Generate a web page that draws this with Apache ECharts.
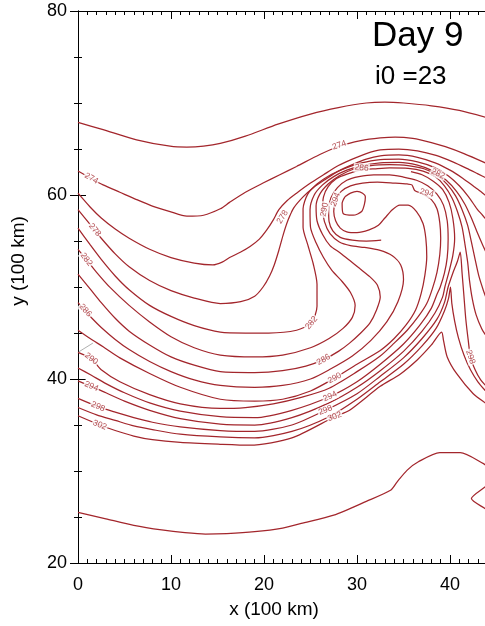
<!DOCTYPE html>
<html><head><meta charset="utf-8">
<script src="https://cdn.jsdelivr.net/npm/echarts@6/dist/echarts.min.js"></script>
<style>html,body{margin:0;padding:0;background:#fff}#c{width:485px;height:626px}</style>
</head><body><div id="c"></div>
<script>
// ---- axis tick values ----
const xTickValues = [0, 10, 20, 30, 40];
const yTickValues = [20, 40, 60, 80];

// ---- contour polylines, data units (x, y in 100 km) ----
const c272 = [[0,67.9],[2.7,67.1],[6.3,66.0],[9.9,65.3],[11.7,65.2],[13.5,65.3],[15.3,65.6],[18,66.4],[21.5,67.7],[25,68.8],[28,69.5],[31,70.0],[33,70.1],[35,70.0],[38,69.7],[41,69.2],[44,68.4]];
const c274 = [[0,62.6],[1.4,61.8],[2.7,61.1],[4.5,60.3],[6.3,59.5],[8,58.8],[9.9,58.2],[11.7,57.7],[13.5,57.8],[15.3,58.5],[16.3,59.2],[18,60.3],[19.9,61.3],[21.7,62.2],[23.5,63.1],[26,64.4],[28.1,65.3],[30.4,65.9],[32.5,66.2],[34.1,66.3],[36,66.15],[38,65.7],[39.5,65.25],[41.5,64.5],[44,63.4]];
const c278 = [[0,60.2],[1.3,58.7],[2.5,57.5],[4,56.3],[5.5,55.3],[7.7,54.1],[10,53.2],[12.5,52.6],[14.5,52.4],[15.5,52.7],[16.3,53.2],[17.5,53.8],[18.5,54.4],[19.5,55.2],[20.3,56.2],[21,57.3],[21.6,58.4],[22.5,59.4],[23.5,60.2],[25,61.3],[26.4,62.2],[28,63.2],[29.5,63.9],[31,64.5],[32.5,64.9],[34.5,65.0],[36.5,64.8],[38.5,64.3],[40.3,63.6],[41.8,62.9],[43,62.3],[44,61.8]];
const c280 = [[0,58.4],[1.3,56.8],[2.5,55.3],[4,53.6],[5.5,52.2],[7.7,50.7],[10,49.6],[12.5,48.8],[15.3,48.2],[17.5,48.4],[19,49.0],[19.9,50.0],[20.6,51.2],[21.1,52.4],[21.6,54.0],[22.1,55.8],[22.6,57.3],[23.2,58.6],[24.2,59.8],[25.3,60.8],[26.6,61.7],[28,62.6],[29.5,63.3],[31,63.9],[32.5,64.25],[34.5,64.35],[36.5,64.1],[38.4,63.5],[40.0,62.7],[41.4,61.8],[42.6,60.9],[43.4,60.3],[44,59.8]];
const c282 = [[0,56.4],[1.3,54.6],[2.5,53.0],[4,51.2],[5.5,49.7],[7.7,48.0],[10,46.8],[12.5,45.8],[15.3,45.1],[18,45.0],[20.5,45.0],[23.5,45.3],[25.1,46.1],[25.7,47.9],[25.7,50.3],[25.3,52.5],[24.7,54.6],[24.2,56.5],[24.2,58.5],[24.7,60.1],[25.7,61.2],[27,62.1],[28.5,62.8],[30,63.35],[31.5,63.7],[32.5,63.85],[34.5,63.9],[36.5,63.6],[38.3,63.0],[39.8,62.1],[41.0,61.0],[42.0,59.8],[42.9,58.5],[43.5,57.8],[44,57.2]];
const c284 = [[0,54.1],[0.9,53.0],[2,51.6],[3.5,49.9],[5.5,48.0],[7.7,46.2],[10,44.6],[12.5,43.4],[15.3,42.6],[19,42.4],[22,42.6],[25,43.4],[27,44.4],[28.5,45.5],[29.5,46.7],[29.8,48.0],[29.3,49.4],[28.4,50.6],[27.3,51.8],[26.4,53.2],[25.6,54.8],[25.0,56.5],[24.95,58.4],[25.4,60.0],[26.3,61.1],[27.5,62.0],[28.9,62.7],[30.5,63.2],[32.5,63.5],[34.5,63.55],[36.5,63.25],[38.2,62.6],[39.6,61.6],[40.7,60.4],[41.6,59.0],[42.3,57.5],[42.9,56.0],[43.5,54.6],[44,53.5]];
const c286 = [[0,51.4],[1.3,49.8],[2.5,48.3],[4,46.6],[5.5,45.2],[7.7,43.7],[10,42.4],[12.5,41.5],[15.3,40.8],[19,40.7],[22,40.9],[24.5,41.4],[26.4,42.1],[28,43.0],[29.2,43.9],[30.4,45.0],[31.4,46.1],[32.1,47.5],[32.5,48.9],[32.2,50.2],[31.4,51.1],[30.3,52.0],[29.2,52.9],[28.2,53.7],[27.1,54.5],[26.3,55.7],[25.7,57.2],[25.6,58.8],[26.0,60.1],[26.9,61.2],[28.1,62.1],[29.6,62.8],[31.5,63.2],[33.5,63.3],[35.5,63.2],[37.2,62.85],[38.6,62.15],[39.7,61.15],[40.6,59.9],[41.3,58.4],[41.9,56.7],[42.3,54.9],[42.7,53.0],[43.1,51.2],[43.6,49.6],[44,48.5]];
const c288 = [[0,48.3],[0.8,47.4],[1.5,46.6],[2.5,45.6],[4,44.3],[5.5,43.2],[7.7,41.9],[10,40.8],[12.5,39.9],[15.3,39.3],[19,39.1],[22,39.3],[25,40.0],[27,41.0],[29.5,42.5],[31.5,44.2],[33.2,46.2],[34.4,48.4],[35.0,50.8],[34.7,52.4],[33.8,53.4],[32.4,54.0],[30.8,54.3],[29.3,54.5],[28.1,54.9],[27.1,55.8],[26.5,57.1],[26.3,58.5],[26.4,59.8],[26.9,60.9],[27.8,61.8],[29.0,62.3],[30.4,62.7],[32,62.85],[33.5,62.95],[35.5,62.9],[37.1,62.6],[38.4,62.0],[39.4,61.0],[40.2,59.7],[40.8,58.2],[41.3,56.5],[41.6,54.7],[41.9,52.7],[42.1,50.7],[42.4,48.7],[42.8,47.0],[43.4,45.5],[44,44.5]];
const c290 = [[0,45.3],[1.3,44.4],[2.7,43.5],[4.5,42.3],[7.7,40.6],[11,39.1],[15.3,37.8],[19,37.6],[22,37.8],[25,38.7],[27.6,40.1],[30,41.6],[32.5,43.1],[34.0,44.4],[35.3,45.9],[36.3,47.5],[36.9,49.3],[37.3,51.3],[37.5,53.3],[37.4,55.3],[37.1,56.9],[36.4,58.2],[35.5,58.9],[34.6,58.9],[33.8,58.4],[33.0,57.5],[32.3,56.7],[31.3,56.2],[30.0,55.9],[28.9,56.0],[28.2,56.4],[27.7,57.2],[27.5,58.2],[27.7,59.4],[28.3,60.4],[29.3,61.0],[30.6,61.3],[32.2,61.4],[34,61.3],[35.4,61.2],[35.9,61.1],[36.2,60.5],[37.1,60.1],[38.0,59.5],[38.6,58.5],[38.9,57.0],[39.0,55.3],[38.9,53.5],[38.6,51.6],[38.1,49.8],[37.5,48.2],[36.6,46.8],[35.4,45.3],[34.0,43.9],[32.5,42.5],[30,40.8],[27,39.0],[24,38.0],[21,37.3],[18,36.9],[15.3,36.8],[11,37.3],[7.7,38.3],[4.5,39.7],[2.5,41.0],[1.44,42.2],[0,42.9]];
const c294 = [[0,41.2],[1.44,40.4],[3,39.5],[5,38.5],[7.7,37.4],[11,36.5],[15.3,35.9],[19,35.8],[23,36.6],[27.1,38.1],[30,39.7],[32.5,41.6],[35,43.8],[36.8,45.9],[38.0,47.7],[38.6,49.2],[38.95,50.0],[39.4,51.5],[39.7,53.2],[39.8,55.2],[39.7,57.2],[39.3,58.9],[38.6,60.1],[37.6,61.0],[36.4,61.6],[35,61.95],[33.5,62.2],[31.8,62.2],[30.2,62.0],[28.9,61.6],[27.9,60.8],[27.2,59.7],[26.95,58.4],[27.0,57.1],[27.4,56.1],[28.2,55.4],[29.5,55.1],[31.0,55.0],[32.6,55.1]];
const c296 = [[0,39.8],[1.44,39.2],[3,38.5],[5,37.6],[7.7,36.6],[11,35.7],[15.3,35.1],[19,35.0],[23,35.8],[27,37.4],[30,39.1],[32.5,40.9],[35,43.0],[37,45.2],[38.4,47.2],[39.2,48.9],[39.45,50.0],[39.9,51.7],[40.3,53.4],[40.5,55.3],[40.3,57.5],[39.9,59.2],[39.2,60.6],[38.2,61.5],[37,62.2],[35.8,62.55]];
const c298 = [[0,37.9],[2.15,37.0],[4,36.4],[6,35.8],[8,35.3],[11,34.8],[15.3,34.4],[19,34.3],[23,35.0],[26.6,36.6],[30,38.4],[32.5,40.3],[35,42.3],[37,44.4],[38.6,46.5],[39.4,48.3],[39.8,50.0],[40.3,51.5],[40.8,52.8],[41.1,53.8],[41.3,51.5],[41.5,49.0],[41.7,46.5],[41.95,44.3],[42.2,42.4],[42.7,41.0],[43.3,39.9],[44,39.1]];
const c300 = [[0,36.9],[2,36.1],[4,35.5],[6,34.9],[8,34.5],[11,34.0],[15.3,33.7],[19,33.6],[23,34.3],[27,35.9],[30,37.8],[32.5,39.7],[35,41.6],[37,43.6],[38.5,45.5],[39.4,47.4],[39.85,48.8],[40.05,50.0],[40.2,48.2],[40.5,46.3],[40.9,44.5],[41.5,42.6],[42.2,41.0],[43.0,39.7],[44,38.5]];
const c302 = [[0,36.0],[2.34,35.0],[4,34.4],[6,33.8],[8,33.4],[11,33.1],[15.3,32.9],[18.5,32.8],[23,33.6],[27.6,35.9],[29.2,36.6],[32.5,39.2],[34.6,40.5],[36.5,42.1],[38.0,43.7],[39.1,45.1],[39.3,44.2],[39.7,42.4],[40.7,40.6],[42.5,38.4],[43.8,37.4],[44,37.3]];
const cCore = [[28.7,59.8],[29.3,60.2],[30.0,60.4],[30.6,60.2],[30.9,59.8],[30.8,59.0],[30.5,58.2],[29.6,57.8],[28.5,58.0],[28.4,59.1],[28.7,59.8]];
const cSouth = [[0,25.5],[3,24.8],[6,24.1],[9,23.6],[11.5,23.3],[13.7,23.15],[16,23.2],[19,23.4],[22,23.8],[24,24.3],[27.5,25.2],[31,26.7],[33.6,27.9],[34.3,28.8],[35.4,30.1],[36.6,31.0],[38.9,32.0],[41.1,32.0],[43.6,30.8],[44,30.5]];
const cSouthEdge = [[44,28.5],[43.8,28.3],[42.3,27.0],[43.8,25.9],[44,25.8]];
const grayMark = [[0.08,42.95],[1.6,43.9]];

// contour labels: x, y, text, rotation (deg)
const contourLabels = [
  [1.44,61.8,'274',-29],[28.1,65.4,'274',18],
  [1.8,56.2,'278',-50],[22.0,57.6,'278',58],
  [0.9,53.0,'282',-52],[25.1,46.1,'282',50],[38.7,62.3,'282',-25],
  [0.8,47.45,'286',-47],[26.4,42.1,'286',30],[30.5,62.95,'286',-5],
  [1.44,42.2,'290',-37],[27.6,40.1,'290',27],[26.5,58.4,'290',80],
  [1.44,39.2,'294',-23],[27.1,38.1,'294',25],[27.7,59.5,'294',70],[37.5,60.2,'294',-15],
  [2.15,37.0,'298',-23],[26.6,36.6,'298',22],[42.2,42.4,'298',-72],
  [2.34,35.0,'302',-23],[27.6,35.9,'302',20]
];

const contours = [c272,c274,c278,c280,c282,c284,c286,c288,c290,c294,c296,c298,c300,c302,cCore,cSouth,cSouthEdge];

const RED = '#a3262c';
const FONT = '"Liberation Sans", Arial, Helvetica, sans-serif';

const chart = echarts.init(document.getElementById('c'), null, {renderer:'canvas'});

const series = contours.map(d => ({
  type:'line', xAxisIndex:0, yAxisIndex:0, data:d, showSymbol:false, symbol:'none',
  smooth:0.25, silent:true, animation:false, clip:false,
  lineStyle:{color:RED, width:1.25}, z:2
}));
series.push({
  type:'line', xAxisIndex:0, yAxisIndex:0, data:grayMark, showSymbol:false, symbol:'none',
  silent:true, animation:false, lineStyle:{color:'#9a9a9a', width:0.8}, z:2
});
series.push({
  type:'scatter', xAxisIndex:0, yAxisIndex:0, symbolSize:2, silent:true, animation:false,
  itemStyle:{color:'rgba(0,0,0,0)'}, z:5,
  data: contourLabels.map(l => ({
    value:[l[0], l[1]],
    label:{show:true, position:'inside', formatter:l[2], rotate:l[3],
      color:RED, fontSize:8.5, fontFamily:FONT, backgroundColor:'#fff', padding:[0,1],
      align:'center', verticalAlign:'middle'}
  }))
});

const tickCommon = {show:true, inside:true, length:8, lineStyle:{color:'#000', width:1}};
const minorCommon = (n) => ({show:true, splitNumber:n, length:4, lineStyle:{color:'#000', width:1}});

chart.setOption({
  animation:false,
  backgroundColor:'#fff',
  grid:[
    {left:78, top:11, width:465, height:552, show:false, outerBoundsMode:'none', containLabel:false},
    {left:78, top:11, width:409, height:552, show:false, outerBoundsMode:'none', containLabel:false}
  ],
  xAxis:[
    {type:'value', gridIndex:0, position:'bottom', min:0, max:50, interval:10,
     axisLine:{show:true, lineStyle:{color:'#000', width:1}},
     axisTick:tickCommon, minorTick:minorCommon(10), splitLine:{show:false},
     axisLabel:{show:true, color:'#000', fontSize:18, fontFamily:FONT, margin:13,
       formatter: v => (xTickValues.indexOf(v) >= 0 ? String(v) : '')}},
    {type:'value', gridIndex:0, position:'top', min:0, max:50, interval:10,
     axisLine:{show:true, lineStyle:{color:'#000', width:1}},
     axisTick:tickCommon, minorTick:minorCommon(10), splitLine:{show:false},
     axisLabel:{show:false}},
    {type:'value', gridIndex:1, min:0, max:44, show:false}
  ],
  yAxis:[
    {type:'value', gridIndex:0, position:'left', min:20, max:80, interval:20,
     axisLine:{show:true, lineStyle:{color:'#000', width:1}},
     axisTick:tickCommon, minorTick:minorCommon(4), splitLine:{show:false},
     axisLabel:{show:true, color:'#000', fontSize:18, fontFamily:FONT, margin:11,
       formatter: v => (yTickValues.indexOf(v) >= 0 ? String(v) : '')}},
    {type:'value', gridIndex:1, position:'right', min:20, max:80, interval:20,
     axisLine:{show:true, lineStyle:{color:'#000', width:1}},
     axisTick:tickCommon, minorTick:minorCommon(4), splitLine:{show:false},
     axisLabel:{show:false}}
  ],
  graphic:[
    {type:'text', x:372, y:36.5, style:{text:'Day 9', fill:'#000', font:'35px ' + FONT, textAlign:'left', textVerticalAlign:'middle', verticalAlign:'middle'}},
    {type:'text', x:375, y:76.5, style:{text:'i0 =23', fill:'#000', font:'26px ' + FONT, textAlign:'left', textVerticalAlign:'middle', verticalAlign:'middle'}},
    {type:'text', x:274, y:610, style:{text:'x (100 km)', fill:'#000', font:'19px ' + FONT, textAlign:'center', textVerticalAlign:'middle', verticalAlign:'middle'}},
    {type:'text', x:19, y:261, rotation:Math.PI/2, style:{text:'y (100 km)', fill:'#000', font:'19px ' + FONT, textAlign:'center', textVerticalAlign:'middle', verticalAlign:'middle'}}
  ],
  series: series
});
</script>
</body></html>
